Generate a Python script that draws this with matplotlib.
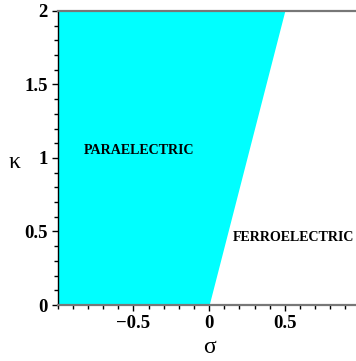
import matplotlib
matplotlib.use("Agg")
import matplotlib.pyplot as plt
from matplotlib.ticker import MultipleLocator

# phase boundary sigma_c(kappa): straight line through these points
kappa = [0.0, 2.0]
sigma_c = [0.0, 0.5]
sigma_min = -1.0
sigma_max = 0.97

regions = ["PARAELECTRIC", "FERROELECTRIC"]
region_pos = [(-0.46, 1.05), (0.555, 0.46)]

fig = plt.figure(figsize=(3.56, 3.61), dpi=100)
ax = fig.add_axes([0.162, 0.155, 0.838, 0.815])

ax.fill_betweenx(kappa, sigma_min, sigma_c, color="#00FFFF", lw=0)

ax.set_xlim(sigma_min, sigma_max)
ax.set_ylim(0, 2)

ax.spines["right"].set_visible(False)
ax.spines["left"].set_color("black")
ax.spines["left"].set_linewidth(1.0)
for side in ("top", "bottom"):
    ax.spines[side].set_color("#777777")
    ax.spines[side].set_linewidth(1.6)

ax.xaxis.set_major_locator(MultipleLocator(0.5))
ax.xaxis.set_minor_locator(MultipleLocator(0.1))
ax.yaxis.set_major_locator(MultipleLocator(0.5))
ax.yaxis.set_minor_locator(MultipleLocator(0.1))
ax.set_xticks([-0.5, 0, 0.5])
ax.set_xticklabels(["\u22120.5", "0", "0.5"])
ax.set_yticks([0, 0.5, 1, 1.5, 2])
ax.set_yticklabels(["0", "0.5", "1", "1.5", "2"])
ax.tick_params(which="major", direction="out", length=4, width=1, pad=3)
ax.tick_params(which="minor", direction="out", length=3, width=1)
ax.tick_params(top=False, right=False, which="both")
for lab in ax.get_xticklabels() + ax.get_yticklabels():
    lab.set_family("Liberation Serif")
    lab.set_fontweight("bold")
    lab.set_fontsize(13.5)

ax.set_xlabel("\u03c3", family="Liberation Serif", fontsize=17,
              va="center", ha="center")
ax.set_ylabel("\u03ba", family="Liberation Serif", fontsize=17, rotation=0,
              va="center", ha="center")
ax.xaxis.set_label_coords(0.51, -0.145)
ax.yaxis.set_label_coords(-0.145, 0.485)

for name, (x, y) in zip(regions, region_pos):
    ax.text(x, y, name, ha="center", va="center", fontsize=10.1,
            fontweight="bold", family="Liberation Serif")

fig.savefig("out.png", dpi=100)
